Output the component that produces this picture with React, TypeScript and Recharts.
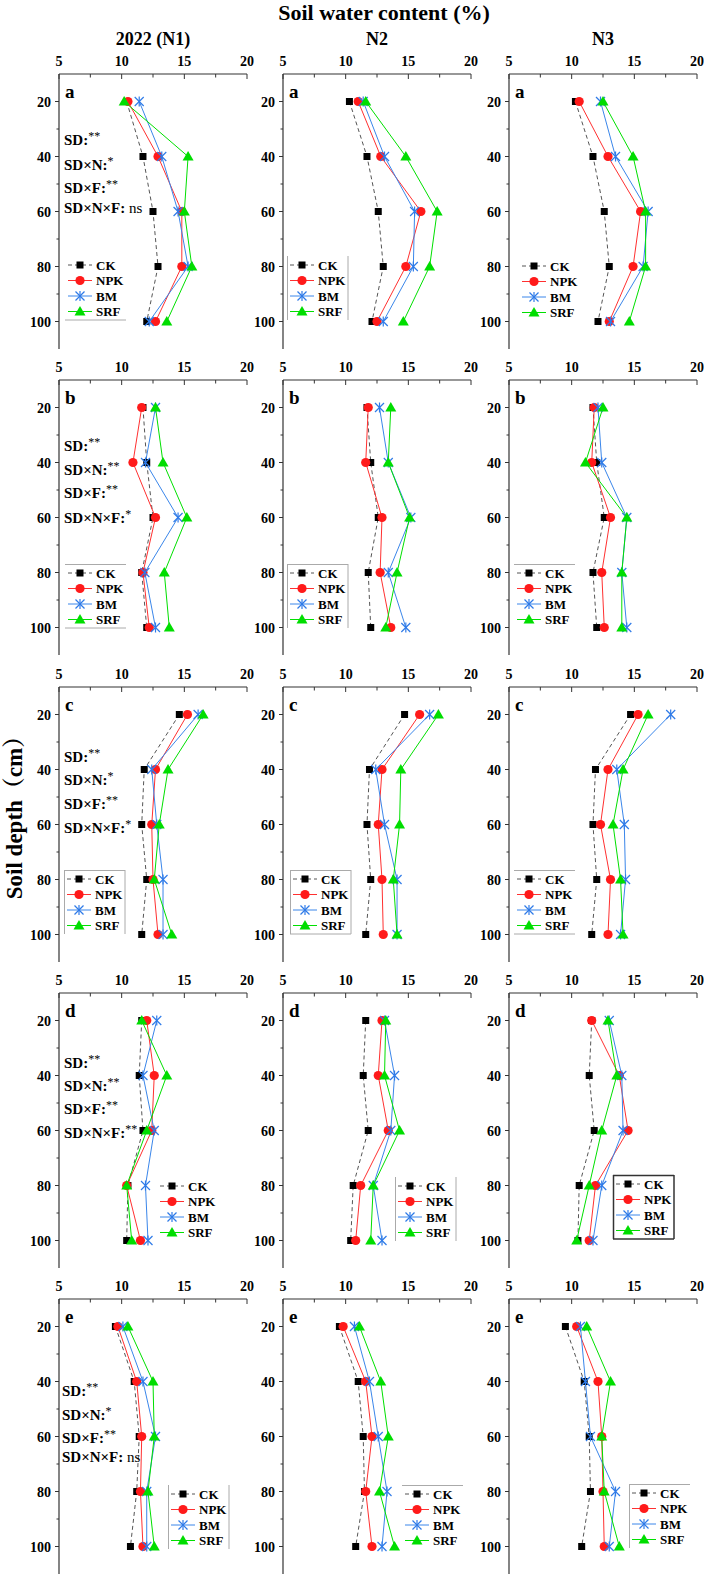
import React from 'react';
import { LineChart, Line, XAxis, YAxis } from 'recharts';

const DEPTHS = [20, 40, 60, 80, 100];
const TREATMENTS = ['CK', 'NPK', 'BM', 'SRF'];
const N_LEVELS = ['2022 (N1)', 'N2', 'N3'];
const PANEL_LETTERS = ['a', 'b', 'c', 'd', 'e'];
const X_TICKS = [5, 7.5, 10, 12.5, 15, 17.5, 20];
const Y_TICKS = [20, 30, 40, 50, 60, 70, 80, 90, 100];
const STAT_TERMS = ['SD:', 'SD×N:', 'SD×F:', 'SD×N×F:'];

// soil water content (%), one row per treatment (CK, NPK, BM, SRF), columns = DEPTHS
const a_N1 = [
  [10.4, 11.7, 12.5, 12.9, 12.0],
  [10.5, 12.9, 14.8, 14.8, 12.7],
  [11.4, 13.2, 14.5, 15.3, 12.2],
  [10.2, 15.3, 15.0, 15.6, 13.6],
];
const a_N2 = [
  [10.3, 11.7, 12.6, 13.0, 12.1],
  [11.0, 12.8, 16.0, 14.8, 12.5],
  [11.4, 13.1, 15.5, 15.4, 13.0],
  [11.6, 14.8, 17.3, 16.7, 14.6],
];
const a_N3 = [
  [10.3, 11.7, 12.6, 13.0, 12.1],
  [10.6, 12.9, 15.5, 14.9, 13.0],
  [12.3, 13.5, 16.1, 15.7, 13.1],
  [12.5, 14.9, 15.9, 15.9, 14.6],
];
const b_N1 = [
  [11.7, 12.0, 12.5, 11.6, 12.0],
  [11.6, 10.9, 12.7, 11.7, 12.2],
  [12.7, 11.9, 14.5, 11.85, 12.7],
  [12.7, 13.3, 15.2, 13.4, 13.8],
];
const b_N2 = [
  [11.7, 12.0, 12.6, 11.8, 12.0],
  [11.8, 11.6, 12.9, 12.75, 13.6],
  [12.7, 13.4, 15.2, 13.4, 14.8],
  [13.6, 13.4, 15.1, 14.1, 13.2],
];
const b_N3 = [
  [11.7, 12.0, 12.6, 11.7, 12.0],
  [11.8, 11.6, 13.1, 12.4, 12.6],
  [12.1, 12.4, 14.4, 14.0, 14.4],
  [12.5, 11.1, 14.4, 14.0, 14.0],
];
const c_N1 = [
  [14.6, 11.8, 11.6, 12.0, 11.6],
  [15.25, 12.7, 12.4, 12.5, 12.9],
  [16.1, 12.4, 12.8, 13.3, 13.3],
  [16.5, 13.7, 13.0, 12.6, 14.0],
];
const c_N2 = [
  [14.7, 11.9, 11.7, 12.0, 11.6],
  [15.9, 12.9, 12.6, 12.9, 13.0],
  [16.7, 12.4, 13.1, 14.1, 14.1],
  [17.4, 14.4, 14.3, 13.8, 14.1],
];
const c_N3 = [
  [14.7, 11.9, 11.7, 12.0, 11.6],
  [15.3, 12.9, 12.3, 13.1, 12.9],
  [17.9, 13.6, 14.2, 14.3, 13.9],
  [16.1, 14.1, 13.3, 13.9, 14.1],
];
const d_N1 = [
  [11.6, 11.4, 11.7, 10.5, 10.4],
  [12.0, 12.6, 12.4, 10.4, 11.5],
  [12.8, 11.7, 12.6, 11.9, 12.1],
  [11.6, 13.6, 12.0, 10.4, 10.8],
];
const d_N2 = [
  [11.6, 11.4, 11.8, 10.6, 10.4],
  [12.9, 12.6, 13.4, 11.2, 10.8],
  [13.1, 13.9, 13.6, 12.2, 12.9],
  [13.2, 13.1, 14.3, 12.2, 12.0],
];
const d_N3 = [
  [11.6, 11.4, 11.8, 10.6, 10.5],
  [11.6, 13.8, 14.5, 11.9, 11.4],
  [13.0, 14.0, 14.1, 12.4, 11.7],
  [12.9, 13.6, 12.4, 11.4, 10.4],
];
const e_N1 = [
  [9.5, 11.0, 11.4, 11.2, 10.7],
  [9.7, 11.2, 11.6, 11.5, 11.7],
  [10.1, 11.7, 12.7, 12.0, 12.0],
  [10.5, 12.5, 12.6, 12.1, 12.6],
];
const e_N2 = [
  [9.5, 11.0, 11.4, 11.5, 10.8],
  [9.8, 11.6, 12.1, 11.6, 12.1],
  [10.7, 11.9, 12.6, 13.3, 12.9],
  [11.1, 12.8, 13.4, 12.7, 13.9],
];
const e_N3 = [
  [9.5, 11.0, 11.4, 11.5, 10.8],
  [10.4, 12.1, 12.4, 12.5, 12.6],
  [10.7, 11.1, 11.5, 13.5, 13.0],
  [11.2, 13.1, 12.4, 12.6, 13.8],
];

// significance of the terms in STAT_TERMS, per row
const SIG_A = ['**', '*', '**', 'ns'];
const SIG_B = ['**', '**', '**', '*'];
const SIG_C = ['**', '*', '**', '*'];
const SIG_D = ['**', '**', '**', '**'];
const SIG_E = ['**', '*', '**', 'ns'];

const ROWS = [
  [a_N1, a_N2, a_N3],
  [b_N1, b_N2, b_N3],
  [c_N1, c_N2, c_N3],
  [d_N1, d_N2, d_N3],
  [e_N1, e_N2, e_N3],
];
const SIGS = [SIG_A, SIG_B, SIG_C, SIG_D, SIG_E];

// layout
const FONT = "'Liberation Serif', 'Times New Roman', 'Noto Serif CJK SC', 'Noto Sans CJK SC', serif";
const AXIS_LEFT = [59, 283, 509];
const ROW_TOP = [74, 380, 687, 993, 1299];
const PLOT_W = 188;
const PLOT_H = 275;
const STAT_Y = [
  [66, 91, 114, 134],
  [66, 90, 113, 138],
  [70, 93, 117, 141],
  [70, 93, 116, 140],
  [92, 116, 139, 158],
];
// legend: x offset from axis, y of first item from row top, frame sides
type Frame = { t?: boolean; b?: boolean; l?: boolean; r?: boolean; dark?: boolean };
const LEGEND_POS: { x: number; y: number; f: Frame }[][] = [
  [{ x: 6, y: 191, f: { b: true } }, { x: 4, y: 191, f: { l: true, r: true } }, { x: 10, y: 192, f: {} }],
  [{ x: 6, y: 193, f: { t: true, b: true } }, { x: 4, y: 193, f: { t: true, l: true, r: true } }, { x: 5, y: 193, f: { t: true } }],
  [{ x: 5, y: 192, f: { t: true, l: true, r: true } }, { x: 7, y: 192, f: { t: true, b: true, l: true, r: true } }, { x: 5, y: 192, f: { t: true, b: true } }],
  [{ x: 98, y: 193, f: {} }, { x: 112, y: 193, f: { l: true, r: true } }, { x: 104, y: 191, f: { t: true, b: true, l: true, r: true, dark: true } }],
  [{ x: 109, y: 195, f: { l: true, r: true } }, { x: 119, y: 195, f: { t: true } }, { x: 120, y: 194, f: { t: true, l: true } }],
];

const STYLE: Record<string, { color: string; dash?: string; line: string }> = {
  CK: { color: '#000000', dash: '4 3', line: '#555555' },
  NPK: { color: '#ff1a1a', line: '#ff3030' },
  BM: { color: '#2f7be8', line: '#3a86ea' },
  SRF: { color: '#00dd00', line: '#00e000' },
};

function marker(name: string, cx: number, cy: number, key?: string | number) {
  const c = STYLE[name].color;
  if (name === 'CK') return <rect key={key} x={cx - 3.5} y={cy - 3.5} width={7} height={7} fill={c} />;
  if (name === 'NPK') return <circle key={key} cx={cx} cy={cy} r={4.6} fill={c} />;
  if (name === 'BM')
    return (
      <g key={key} stroke={c} strokeWidth={1.2}>
        <line x1={cx - 4.5} y1={cy - 4.5} x2={cx + 4.5} y2={cy + 4.5} />
        <line x1={cx - 4.5} y1={cy + 4.5} x2={cx + 4.5} y2={cy - 4.5} />
        <line x1={cx} y1={cy - 5} x2={cx} y2={cy + 5} />
      </g>
    );
  return <polygon key={key} points={`${cx},${cy - 5.5} ${cx - 5.5},${cy + 4} ${cx + 5.5},${cy + 4}`} fill={c} />;
}

const XTick = (props: any) => {
  const { x, y, payload } = props;
  const major = payload.value % 5 === 0;
  return (
    <g>
      <line x1={x} x2={x} y1={y} y2={y + (major ? 5 : 3.5)} stroke="#333" strokeWidth={1} />
      {major && (
        <text x={x} y={y - 8} textAnchor="middle" fontSize={14} fontWeight="bold" fontFamily={FONT} fill="#000">
          {payload.value}
        </text>
      )}
    </g>
  );
};

const YTick = (props: any) => {
  const { x, y, payload } = props;
  const major = payload.value % 20 === 0;
  return (
    <g>
      <line x1={x - (major ? 4 : 2.5)} x2={x} y1={y} y2={y} stroke="#333" strokeWidth={1} />
      {major && (
        <text x={x - 8} y={y + 5} textAnchor="end" fontSize={14} fontWeight="bold" fontFamily={FONT} fill="#000">
          {payload.value}
        </text>
      )}
    </g>
  );
};

function Legend({ left, top, f }: { left: number; top: number; f: Frame }) {
  const w = 61;
  const h = 64;
  const fc = f.dark ? '#333' : '#aaa';
  return (
    <svg width={w + 2} height={h + 2} style={{ position: 'absolute', left, top, overflow: 'visible' }}>
      {f.t && <line x1={0} x2={w} y1={0.5} y2={0.5} stroke={fc} strokeWidth={f.dark ? 1.5 : 1} />}
      {f.b && <line x1={0} x2={w} y1={h} y2={h} stroke={fc} strokeWidth={f.dark ? 1.5 : 1} />}
      {f.l && <line x1={0.5} x2={0.5} y1={0} y2={h} stroke={fc} strokeWidth={f.dark ? 1.5 : 1} />}
      {f.r && <line x1={w} x2={w} y1={0} y2={h} stroke={fc} strokeWidth={f.dark ? 1.5 : 1} />}
      {TREATMENTS.map((t, i) => {
        const cy = 9 + i * 15.5;
        const s = STYLE[t];
        return (
          <g key={t}>
            <line x1={3} x2={27} y1={cy} y2={cy} stroke={s.line} strokeWidth={1} strokeDasharray={s.dash} />
            {marker(t, 15, cy)}
            <text x={31} y={cy + 4.5} fontSize={13} fontWeight="bold" fontFamily={FONT} fill="#000">
              {t}
            </text>
          </g>
        );
      })}
    </svg>
  );
}

function Panel({ values, row, col }: { values: number[][]; row: number; col: number }) {
  const left = AXIS_LEFT[col];
  const top = ROW_TOP[row];
  const data = DEPTHS.map((d, i) => ({
    depth: d,
    CK: values[0][i],
    NPK: values[1][i],
    BM: values[2][i],
    SRF: values[3][i],
  }));
  const lg = LEGEND_POS[row][col];
  return (
    <>
      <div style={{ position: 'absolute', left: left - 40, top: top - 30 }}>
        <LineChart
          width={40 + PLOT_W + 10}
          height={30 + PLOT_H}
          data={data}
          layout="vertical"
          margin={{ top: 0, right: 10, bottom: 0, left: 0 }}
        >
          <XAxis
            type="number"
            orientation="top"
            domain={[5, 20]}
            ticks={X_TICKS}
            interval={0}
            height={30}
            tickSize={0}
            tickMargin={0}
            tickLine={false}
            tick={XTick}
            axisLine={{ stroke: '#333', strokeWidth: 1.2 }}
            allowDataOverflow
          />
          <YAxis
            type="number"
            dataKey="depth"
            domain={[10, 110]}
            ticks={Y_TICKS}
            interval={0}
            width={40}
            tickSize={0}
            tickMargin={0}
            tickLine={false}
            tick={YTick}
            axisLine={{ stroke: '#333', strokeWidth: 1.2 }}
            allowDataOverflow
          />
          {TREATMENTS.map((t) => (
            <Line
              key={t}
              dataKey={t}
              stroke={STYLE[t].line}
              strokeWidth={1}
              strokeDasharray={STYLE[t].dash}
              isAnimationActive={false}
              dot={(p: any) => marker(t, p.cx, p.cy, `${t}-${p.index}`)}
              activeDot={false}
            />
          ))}
        </LineChart>
      </div>
      <div
        style={{
          position: 'absolute',
          left: left + 6,
          top: top + 7,
          fontSize: 19,
          fontWeight: 'bold',
          fontFamily: FONT,
        }}
      >
        {PANEL_LETTERS[row]}
      </div>
      {col === 0 &&
        STAT_TERMS.map((term, i) => {
          const sig = SIGS[row][i];
          return (
            <div
              key={term}
              style={{
                position: 'absolute',
                left: left + (row === 4 ? 3 : 5),
                top: top + STAT_Y[row][i] - 10,
                fontSize: 15,
                fontWeight: 'bold',
                fontFamily: FONT,
                lineHeight: '20px',
                whiteSpace: 'nowrap',
              }}
            >
              {term}
              {sig === 'ns' ? (
                <span style={{ fontWeight: 'normal' }}> ns</span>
              ) : (
                <sup style={{ fontSize: 12, fontWeight: 'normal', verticalAlign: '5px', lineHeight: 0 }}>{sig}</sup>
              )}
            </div>
          );
        })}
      <Legend left={left + lg.x} top={top + lg.y - 9} f={lg.f} />
    </>
  );
}

export default function App() {
  return (
    <div
      style={{
        position: 'absolute',
        left: 0,
        top: 0,
        width: 704,
        height: 1574,
        overflow: 'hidden',
        background: '#fff',
        fontFamily: FONT,
        color: '#000',
      }}
    >
      <div
        style={{
          position: 'absolute',
          left: 0,
          width: 768,
          top: 2,
          lineHeight: '21px',
          textAlign: 'center',
          fontSize: 22,
          fontWeight: 'bold',
        }}
      >
        Soil water content (%)
      </div>
      {N_LEVELS.map((n, c) => (
        <div
          key={n}
          style={{
            position: 'absolute',
            left: AXIS_LEFT[c] + PLOT_W / 2 - 100,
            width: 200,
            top: 29,
            textAlign: 'center',
            fontSize: 18,
            fontWeight: 'bold',
          }}
        >
          {n}
        </div>
      ))}
      <div
        style={{
          position: 'absolute',
          left: 12,
          top: 812,
          transform: 'translate(-50%, -50%) rotate(-90deg)',
          fontSize: 23,
          fontWeight: 'bold',
          whiteSpace: 'nowrap',
        }}
      >
        Soil depth（cm）
      </div>
      {ROWS.map((r, ri) => r.map((vals, ci) => <Panel key={`${ri}-${ci}`} values={vals} row={ri} col={ci} />))}
    </div>
  );
}
